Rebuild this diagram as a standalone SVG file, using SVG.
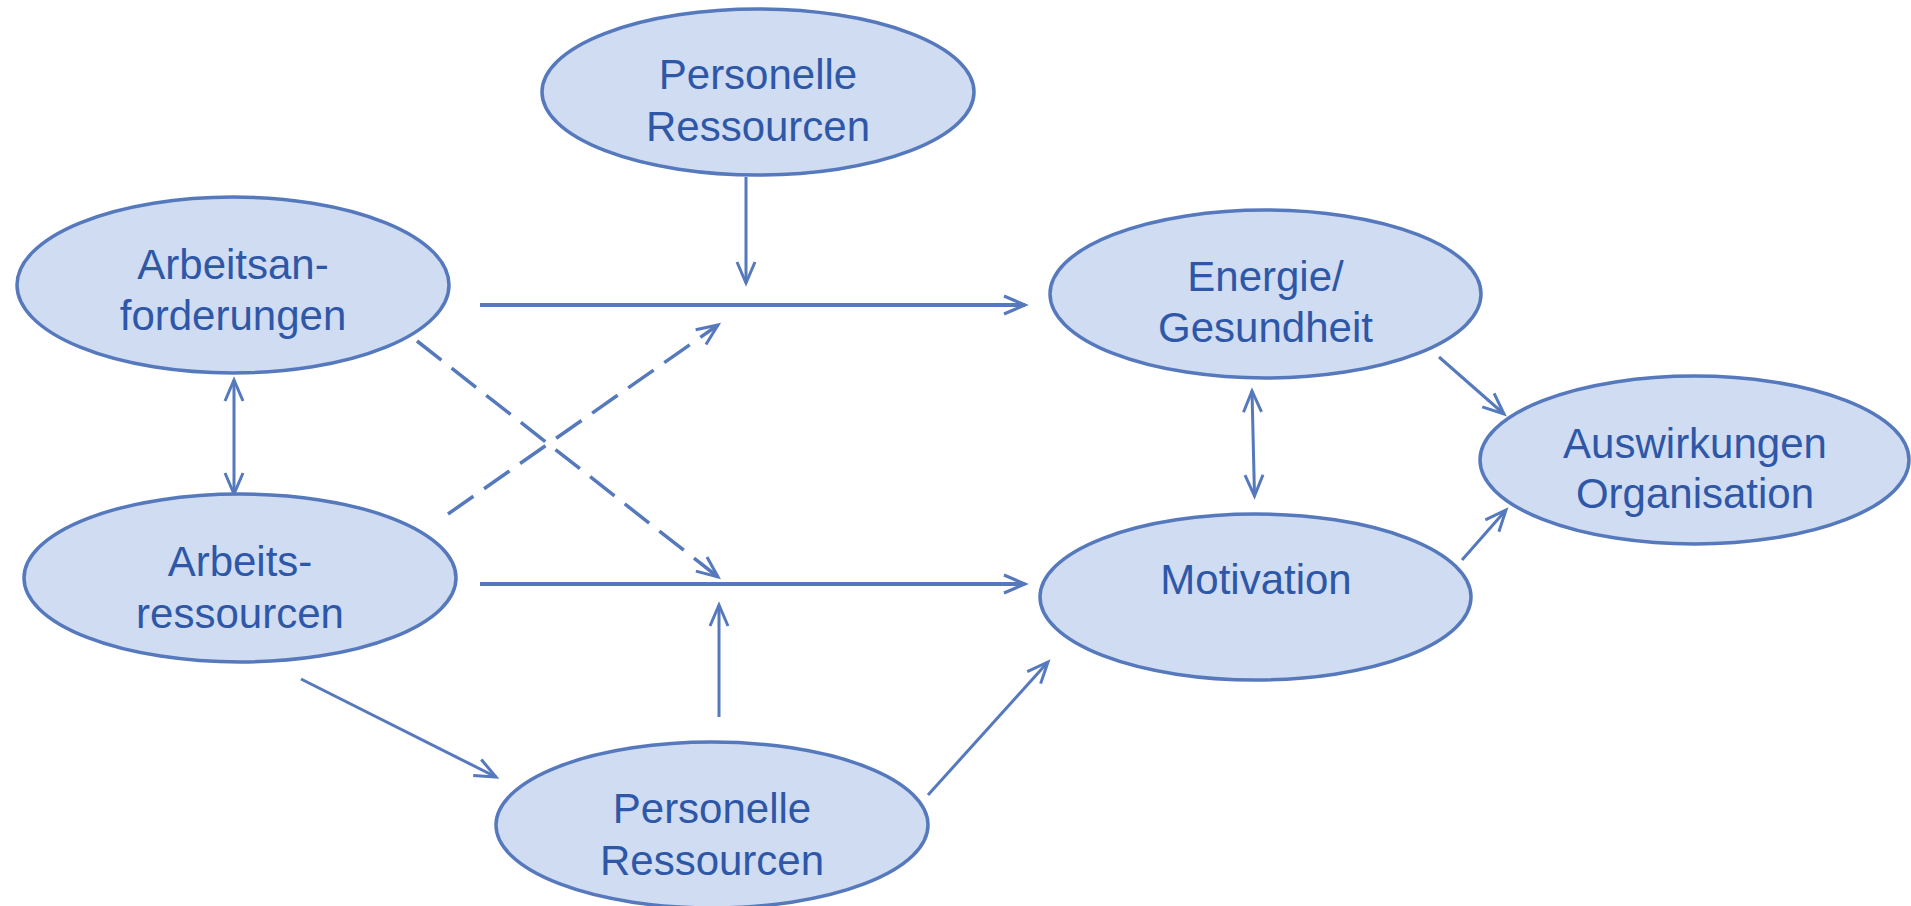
<svg xmlns="http://www.w3.org/2000/svg" width="1911" height="906" viewBox="0 0 1911 906">
<style>
.node ellipse{fill:#CFDCF1;stroke:#5579BC;stroke-width:3.5}
.node text{font-family:"Liberation Sans",Arial,sans-serif;font-size:42px;fill:#2E57A8;text-anchor:middle}
.conn path{fill:none;stroke:#5579BC;stroke-width:3}
.conn .thick{stroke-width:4}
.conn .dash{stroke-dasharray:31 13;stroke-width:3.5}
</style>
<defs>
<marker id="arr" markerUnits="userSpaceOnUse" viewBox="-26 -12 30 24" refX="0" refY="0" markerWidth="30" markerHeight="24" orient="auto-start-reverse" overflow="visible">
<path d="M-21,-9 L0,0 L-21,9" fill="none" stroke="#5579BC" stroke-width="3" stroke-dasharray="none"/>
</marker>
</defs>
<rect width="1911" height="906" fill="#FFFFFF"/>
<g id="connectors" class="conn">
<path d="M746,177 L746,283" marker-end="url(#arr)"/>
<path class="thick" d="M480,305 L1025,305" marker-end="url(#arr)"/>
<path class="thick" d="M480,584 L1025,584" marker-end="url(#arr)"/>
<path d="M719,717 L719,605" marker-end="url(#arr)"/>
<path d="M234,380 L234,494" marker-start="url(#arr)" marker-end="url(#arr)"/>
<path class="dash" d="M417,341 L718,577" marker-end="url(#arr)"/>
<path class="dash" d="M448,514 L718,325" marker-end="url(#arr)"/>
<path d="M301,679 L496,777" marker-end="url(#arr)"/>
<path d="M928,795 L1048,662" marker-end="url(#arr)"/>
<path d="M1439,357 L1504,414" marker-end="url(#arr)"/>
<path d="M1252,391 L1254.5,496" marker-start="url(#arr)" marker-end="url(#arr)"/>
<path d="M1462,560 L1506,510" marker-end="url(#arr)"/>
</g>
<g id="personelle-top" class="node">
<ellipse cx="758" cy="92" rx="216" ry="83"/>
<text x="758" y="89">Personelle</text>
<text x="758" y="141">Ressourcen</text>
</g>
<g id="arbeitsanforderungen" class="node">
<ellipse cx="233" cy="285" rx="216" ry="88"/>
<text x="233" y="279">Arbeitsan-</text>
<text x="233" y="330">forderungen</text>
</g>
<g id="arbeitsressourcen" class="node">
<ellipse cx="240" cy="578" rx="216" ry="84"/>
<text x="240" y="576">Arbeits-</text>
<text x="240" y="628">ressourcen</text>
</g>
<g id="personelle-bottom" class="node">
<ellipse cx="712" cy="825" rx="216" ry="83"/>
<text x="712" y="823">Personelle</text>
<text x="712" y="875">Ressourcen</text>
</g>
<g id="energie" class="node">
<ellipse cx="1265.5" cy="294" rx="215.5" ry="84"/>
<text x="1265.5" y="291">Energie/</text>
<text x="1265.5" y="342">Gesundheit</text>
</g>
<g id="motivation" class="node">
<ellipse cx="1255.5" cy="597" rx="215.5" ry="83"/>
<text x="1256" y="594">Motivation</text>
</g>
<g id="auswirkungen" class="node">
<ellipse cx="1694.5" cy="460" rx="214.5" ry="84"/>
<text x="1695" y="458">Auswirkungen</text>
<text x="1695" y="508">Organisation</text>
</g>
</svg>
